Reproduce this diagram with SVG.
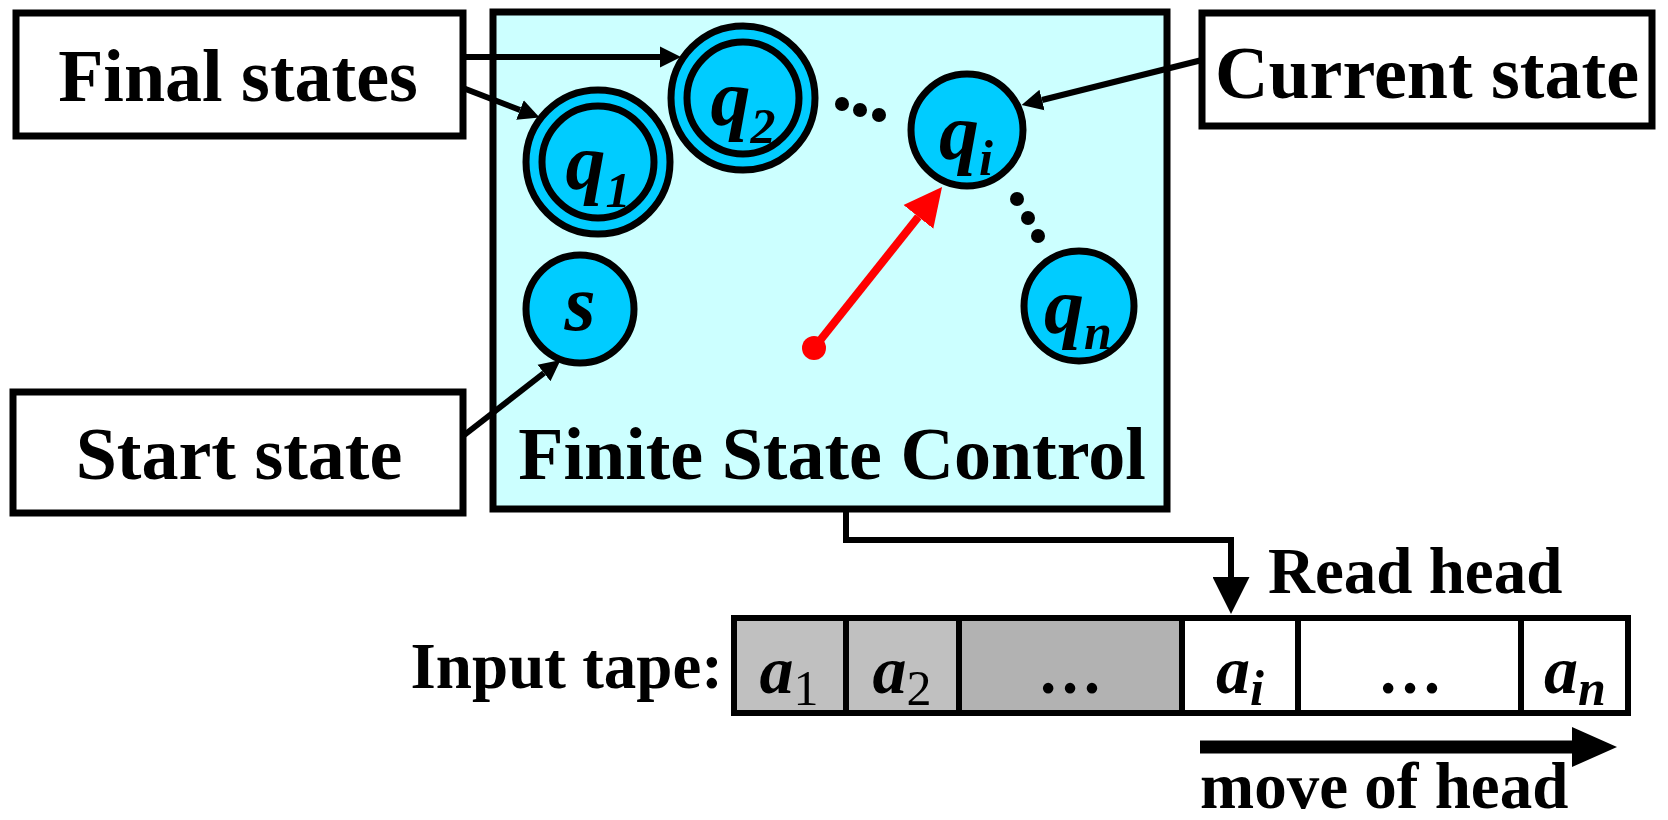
<svg xmlns="http://www.w3.org/2000/svg" width="1668" height="820" viewBox="0 0 1668 820">
<defs>
<style>
.box{fill:#fff;stroke:#000;stroke-width:7}
.lbl{font-family:"Liberation Serif","Times New Roman",serif;font-weight:bold;font-size:74px;fill:#000}
.sm{font-family:"Liberation Serif","Times New Roman",serif;font-weight:bold;font-size:65px;fill:#000}
.st{fill:#00CCFF;stroke:#000;stroke-width:7}
.sym{font-family:"Liberation Serif","Times New Roman",serif;font-weight:bold;font-style:italic;font-size:80px;fill:#000}
.tsym{font-family:"Liberation Serif","Times New Roman",serif;font-weight:bold;font-style:italic;font-size:68px;fill:#000}
.cell{stroke:#000;stroke-width:6}
.con{fill:none;stroke:#000;stroke-width:6}
</style>
<marker id="ah" viewBox="0 0 10 10" refX="0" refY="5" markerWidth="21" markerHeight="23" markerUnits="userSpaceOnUse" orient="auto">
<path d="M0,0 L10,5 L0,10 z" fill="#000"/>
</marker>
<marker id="ahb" viewBox="0 0 10 10" refX="0" refY="5" markerWidth="40" markerHeight="37" markerUnits="userSpaceOnUse" orient="auto">
<path d="M0,0 L10,5 L0,10 z" fill="#000"/>
</marker>
<marker id="ahr" viewBox="0 0 10 10" refX="0" refY="5" markerWidth="38" markerHeight="40" markerUnits="userSpaceOnUse" orient="auto">
<path d="M0,0 L10,5 L0,10 z" fill="#FF0000"/>
</marker>
</defs>
<rect width="1668" height="820" fill="#fff"/>

<g id="fsc">
<rect x="493" y="12" width="674" height="497" fill="#CCFFFF" stroke="#000" stroke-width="7"/>
<text class="lbl" x="832" y="479" text-anchor="middle">Finite State Control</text>
</g>

<g id="final-states">
<rect class="box" x="16" y="13" width="447" height="123"/>
<text class="lbl" x="238" y="101" text-anchor="middle">Final states</text>
</g>

<g id="current-state">
<rect class="box" x="1202" y="13" width="450" height="113"/>
<text class="lbl" x="1427" y="98" text-anchor="middle">Current state</text>
</g>

<g id="start-state">
<rect class="box" x="13" y="392" width="450" height="121"/>
<text class="lbl" x="239" y="479" text-anchor="middle">Start state</text>
</g>

<g id="q1">
<circle class="st" cx="598" cy="162" r="72"/>
<circle class="st" cx="598" cy="162" r="56"/>
<text class="sym" x="598" y="189" text-anchor="middle">q<tspan font-size="50" dy="18">1</tspan></text>
</g>

<g id="q2">
<circle class="st" cx="743" cy="98" r="72"/>
<circle class="st" cx="743" cy="98" r="56"/>
<text class="sym" x="743" y="125" text-anchor="middle">q<tspan font-size="50" dy="18">2</tspan></text>
</g>

<g id="qi">
<circle class="st" cx="967" cy="130" r="56"/>
<text class="sym" x="966" y="159" text-anchor="middle">q<tspan font-size="50" dy="16">i</tspan></text>
</g>

<g id="qn">
<circle class="st" cx="1079" cy="306" r="55"/>
<text class="sym" x="1078" y="333" text-anchor="middle">q<tspan font-size="50" dy="16">n</tspan></text>
</g>

<g id="s">
<circle class="st" cx="580" cy="309" r="54"/>
<text class="sym" x="580" y="330" text-anchor="middle">s</text>
</g>

<g id="ellipses">
<circle cx="842" cy="104" r="7"/>
<circle cx="860" cy="110" r="7"/>
<circle cx="879" cy="115" r="7"/>
<circle cx="1017" cy="199" r="7"/>
<circle cx="1028" cy="218" r="7"/>
<circle cx="1038" cy="236" r="7"/>
</g>

<g id="tape">
<text class="sm" x="723" y="688" text-anchor="end">Input tape:</text>
<rect x="734" y="618" width="112" height="95" fill="#C0C0C0" class="cell"/>
<rect x="846" y="618" width="113" height="95" fill="#C0C0C0" class="cell"/>
<rect x="959" y="618" width="223" height="95" fill="#B2B2B2" class="cell"/>
<rect x="1182" y="618" width="116" height="95" fill="#fff" class="cell"/>
<rect x="1298" y="618" width="223" height="95" fill="#fff" class="cell"/>
<rect x="1521" y="618" width="107" height="95" fill="#fff" class="cell"/>
<text class="tsym" x="789" y="693" text-anchor="middle">a<tspan font-style="normal" font-weight="normal" font-size="50" dy="12">1</tspan></text>
<text class="tsym" x="902" y="693" text-anchor="middle">a<tspan font-style="normal" font-weight="normal" font-size="50" dy="12">2</tspan></text>
<text class="sm" x="1070" y="693" text-anchor="middle">…</text>
<text class="tsym" x="1240" y="693" text-anchor="middle">a<tspan font-size="50" dy="12">i</tspan></text>
<text class="sm" x="1410" y="693" text-anchor="middle">…</text>
<text class="tsym" x="1575" y="693" text-anchor="middle">a<tspan font-size="50" dy="12">n</tspan></text>
</g>

<g id="labels">
<text class="sm" x="1268" y="593">Read head</text>
<text class="sm" x="1200" y="808">move of head</text>
</g>

<g id="connectors">
<line class="con" x1="463" y1="57" x2="660" y2="57" marker-end="url(#ah)"/>
<line class="con" x1="463" y1="88" x2="520" y2="110" marker-end="url(#ah)"/>
<line class="con" x1="1202" y1="60" x2="1042" y2="100" marker-end="url(#ah)"/>
<line class="con" x1="463" y1="436" x2="544" y2="373" marker-end="url(#ah)"/>
<path class="con" d="M846,509 V540 H1231 V577" marker-end="url(#ahb)"/>
<line x1="814" y1="348" x2="918.4" y2="216.8" stroke="#FF0000" stroke-width="8" marker-end="url(#ahr)"/>
<circle cx="814" cy="348" r="12" fill="#FF0000"/>
<line x1="1200" y1="747" x2="1576" y2="747" stroke="#000" stroke-width="13"/>
<path d="M1572,727 L1617,747 L1572,767 z" fill="#000"/>
</g>
</svg>
